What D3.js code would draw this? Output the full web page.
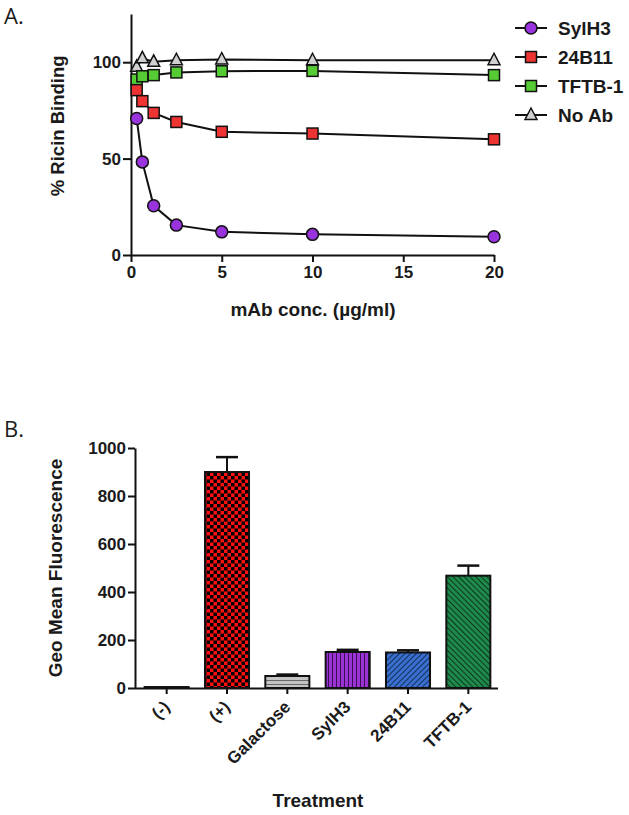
<!DOCTYPE html>
<html>
<head>
<meta charset="utf-8">
<script src="https://cdn.jsdelivr.net/npm/d3@7"></script>
<style>
	body { margin: 0; background: #fff; }
	text { font-family: "Liberation Sans", Arial, sans-serif; fill: #1a1a1a; }
	.bold { font-weight: bold; }
</style>
</head>
<body>
<svg id="chart" width="629" height="815"></svg>
<script>
"use strict"

//
// panel A data
//
var concs = [0.3125, 0.625, 1.25, 2.5, 5, 10, 20];
var sylh3 = [70.8, 48.3, 25.5, 15.5, 12, 10.7, 9.5];
var b24b11 = [85.5, 79.8, 73.7, 69, 63.9, 63, 60];
var tftb1 = [91, 92.7, 93.3, 94.7, 95.3, 95.5, 93.3];
var noAb = [97.6, 102, 100.2, 101, 101.4, 101, 101];
var seriesNames = ["SylH3", "24B11", "TFTB-1", "No Ab"];
var xTicksA = [0, 5, 10, 15, 20];
var yTicksA = [0, 50, 100];

//
// panel B data
//
var treatments = ["(-)", "(+)", "Galactose", "SylH3", "24B11", "TFTB-1"];
var geoMean = [4, 900, 50, 150, 148, 468];
var geoErr = [0, 62, 6, 9, 9, 42];
var yTicksB = [0, 200, 400, 600, 800, 1000];

var svg = d3.select("#chart");
var defs = svg.append("defs");

// fill patterns for bars
var pCheck = defs.append("pattern").attr("id", "pCheck")
	.attr("patternUnits", "userSpaceOnUse")
	.attr("width", 7).attr("height", 7)
	;
pCheck.append("rect").attr("width", 7).attr("height", 7).attr("fill", "#ff1010");
pCheck.append("rect").attr("width", 3.5).attr("height", 3.5).attr("fill", "#000");
pCheck.append("rect").attr("x", 3.5).attr("y", 3.5).attr("width", 3.5).attr("height", 3.5).attr("fill", "#000");

var pHoriz = defs.append("pattern").attr("id", "pHoriz")
	.attr("patternUnits", "userSpaceOnUse")
	.attr("width", 6).attr("height", 4)
	;
pHoriz.append("rect").attr("width", 6).attr("height", 4).attr("fill", "#c4c4c4");
pHoriz.append("line").attr("x1", 0).attr("x2", 6).attr("y1", 0.5).attr("y2", 0.5)
	.attr("stroke", "#6a6a6a").attr("stroke-width", 1);

var pVert = defs.append("pattern").attr("id", "pVert")
	.attr("patternUnits", "userSpaceOnUse")
	.attr("width", 4).attr("height", 6)
	;
pVert.append("rect").attr("width", 4).attr("height", 6).attr("fill", "#9a34d6");
pVert.append("line").attr("x1", 0.5).attr("x2", 0.5).attr("y1", 0).attr("y2", 6)
	.attr("stroke", "#3a1050").attr("stroke-width", 1);

var pDiagB = defs.append("pattern").attr("id", "pDiagB")
	.attr("patternUnits", "userSpaceOnUse")
	.attr("width", 4).attr("height", 4)
	.attr("patternTransform", "rotate(45)")
	;
pDiagB.append("rect").attr("width", 4).attr("height", 4).attr("fill", "#3a6fd0");
pDiagB.append("line").attr("x1", 0.5).attr("x2", 0.5).attr("y1", 0).attr("y2", 4)
	.attr("stroke", "#12305a").attr("stroke-width", 1);

var pDiagG = defs.append("pattern").attr("id", "pDiagG")
	.attr("patternUnits", "userSpaceOnUse")
	.attr("width", 4).attr("height", 4)
	.attr("patternTransform", "rotate(-45)")
	;
pDiagG.append("rect").attr("width", 4).attr("height", 4).attr("fill", "#1f8a4c");
pDiagG.append("line").attr("x1", 0.5).attr("x2", 0.5).attr("y1", 0).attr("y2", 4)
	.attr("stroke", "#0a3a1c").attr("stroke-width", 1);

var barFills = ["#ffffff", "url(#pCheck)", "url(#pHoriz)", "url(#pVert)", "url(#pDiagB)", "url(#pDiagG)"];

function styleAxis(g) {
	g.selectAll("path, line").attr("stroke", "#111").attr("stroke-width", 2);
	g.selectAll("text")
		.attr("class", "bold")
		.style("font-size", "17px")
		.style("font-family", "Liberation Sans, Arial, sans-serif")
		.attr("fill", "#1a1a1a")
		;
}

//
// Panel A: line chart
//
svg.append("text").attr("x", 4).attr("y", 24)
	.style("font-size", "22px").style("font-family", "Open Sans, sans-serif")
	.text("A.");

var xA = d3.scaleLinear().domain([0, 20]).range([131, 494]);
var yA = d3.scaleLinear().domain([0, 125]).range([255, 14]);

var gA = svg.append("g");

var axA_x = gA.append("g").attr("transform", "translate(0," + yA(0) + ")")
	.call(d3.axisBottom(xA).tickValues(xTicksA).tickSize(7).tickSizeOuter(0).tickPadding(4))
	;
styleAxis(axA_x);

var axA_y = gA.append("g").attr("transform", "translate(" + xA(0) + ",0)")
	.call(d3.axisLeft(yA).tickValues(yTicksA).tickSize(8).tickSizeOuter(0).tickPadding(2))
	;
styleAxis(axA_y);

gA.append("text").attr("class", "bold")
	.attr("transform", "translate(64," + yA(67) + ") rotate(-90)")
	.attr("text-anchor", "middle")
	.style("font-size", "18.5px")
	.text("% Ricin Binding");

gA.append("text").attr("class", "bold")
	.attr("x", 313).attr("y", 316)
	.attr("text-anchor", "middle")
	.style("font-size", "19px")
	.text("mAb conc. (\u00b5g/ml)");

var seriesA = [
	{name: seriesNames[0], values: sylh3, shape: "circle", color: "#9933dd"},
	{name: seriesNames[1], values: b24b11, shape: "square", color: "#ee3333"},
	{name: seriesNames[2], values: tftb1, shape: "square", color: "#55cc33"},
	{name: seriesNames[3], values: noAb, shape: "triangle", color: "#d0d0d0"}
];

var line = d3.line()
	.x(function(d) { return xA(d[0]); })
	.y(function(d) { return yA(d[1]); })
	;

function drawMarker(g, shape, color) {
	if (shape == "circle") {
		g.append("circle").attr("r", 6).attr("fill", color)
			.attr("stroke", "#111").attr("stroke-width", 1.5);
	} else if (shape == "square") {
		g.append("rect").attr("x", -5.5).attr("y", -5.5).attr("width", 11).attr("height", 11)
			.attr("fill", color).attr("stroke", "#111").attr("stroke-width", 1.5);
	} else {
		g.append("path").attr("d", "M0,-7 L6,4.5 L-6,4.5 Z")
			.attr("fill", color).attr("stroke", "#111").attr("stroke-width", 1.5);
	}
}

// draw in reverse so SylH3 sits on top
seriesA.slice().reverse().forEach(function(s) {
	var pts = concs.map(function(c, i) { return [c, s.values[i]]; });
	gA.append("path").datum(pts)
		.attr("d", line)
		.attr("fill", "none")
		.attr("stroke", "#111")
		.attr("stroke-width", 2)
		;
	pts.forEach(function(p) {
		var m = gA.append("g").attr("transform", "translate(" + xA(p[0]) + "," + yA(p[1]) + ")");
		drawMarker(m, s.shape, s.color);
	});
});

// legend
var legend = svg.append("g");
seriesA.forEach(function(s, i) {
	var ly = 28 + i * 29;
	legend.append("line").attr("x1", 515).attr("x2", 547).attr("y1", ly).attr("y2", ly)
		.attr("stroke", "#111").attr("stroke-width", 2);
	var m = legend.append("g").attr("transform", "translate(531," + ly + ")");
	drawMarker(m, s.shape, s.color);
	legend.append("text").attr("class", "bold")
		.attr("x", 558).attr("y", ly + 6.5)
		.style("font-size", "19px")
		.text(s.name);
});

//
// Panel B: bar chart
//
svg.append("text").attr("x", 4).attr("y", 437)
	.style("font-size", "22px").style("font-family", "Open Sans, sans-serif")
	.text("B.");

var xB = d3.scaleBand().domain(treatments).range([136.5, 498.5])
	.paddingInner(0.27).paddingOuter(0.135);
var yB = d3.scaleLinear().domain([0, 1000]).range([688, 448]);

var gB = svg.append("g");

gB.selectAll("rect.bar").data(treatments).enter()
	.append("rect").attr("class", "bar")
	.attr("x", function(d) { return xB(d); })
	.attr("width", xB.bandwidth())
	.attr("y", function(d, i) { return yB(geoMean[i]); })
	.attr("height", function(d, i) { return yB(0) - yB(geoMean[i]); })
	.attr("fill", function(d, i) { return barFills[i]; })
	.attr("stroke", "#111")
	.attr("stroke-width", 2)
	;

// error bars (upper only)
treatments.forEach(function(d, i) {
	if (geoErr[i] <= 0) return;
	var cx = xB(d) + xB.bandwidth() / 2;
	gB.append("line").attr("x1", cx).attr("x2", cx)
		.attr("y1", yB(geoMean[i])).attr("y2", yB(geoMean[i] + geoErr[i]))
		.attr("stroke", "#111").attr("stroke-width", 2);
	gB.append("line").attr("x1", cx - 11).attr("x2", cx + 11)
		.attr("y1", yB(geoMean[i] + geoErr[i])).attr("y2", yB(geoMean[i] + geoErr[i]))
		.attr("stroke", "#111").attr("stroke-width", 2.5);
});

var axB_x = gB.append("g").attr("transform", "translate(0," + yB(0) + ")")
	.call(d3.axisBottom(xB).tickSize(6).tickSizeOuter(0))
	;
styleAxis(axB_x);
axB_x.select(".domain").attr("d", "M135,0.5H498");
axB_x.selectAll(".tick text")
	.attr("text-anchor", "end")
	.attr("dy", null)
	.attr("transform", "translate(4,20) rotate(-45)")
	.attr("y", 0)
	;

var axB_y = gB.append("g").attr("transform", "translate(135,0)")
	.call(d3.axisLeft(yB).tickValues(yTicksB).tickFormat(d3.format("d"))
		.tickSize(7).tickSizeOuter(0).tickPadding(2))
	;
styleAxis(axB_y);

gB.append("text").attr("class", "bold")
	.attr("transform", "translate(62," + yB(500) + ") rotate(-90)")
	.attr("text-anchor", "middle")
	.style("font-size", "19px")
	.text("Geo Mean Fluorescence");

gB.append("text").attr("class", "bold")
	.attr("x", 318).attr("y", 807)
	.attr("text-anchor", "middle")
	.style("font-size", "19px")
	.text("Treatment");
</script>
</body>
</html>
